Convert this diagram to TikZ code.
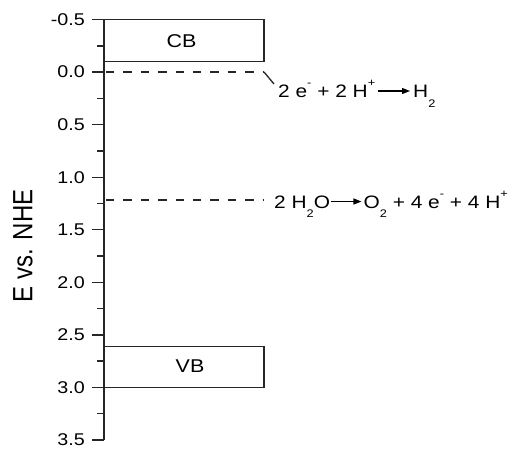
\documentclass[tikz,border=0pt]{standalone}
\usepackage{fontspec}
\setmainfont{Liberation Sans}
\usetikzlibrary{arrows.meta}
% horizontally widened text, and small raised / lowered indices
\newcommand\hs[1]{\scalebox{1.16}[1]{#1}}
\newcommand\dn[1]{\raisebox{-9.5pt}{\fontsize{11}{12}\selectfont #1}}
\newcommand\up[1]{\raisebox{11pt}{\fontsize{11}{12}\selectfont #1}}
\begin{document}
\begin{tikzpicture}[x=1pt,y=-1pt,
  axisline/.style={line width=1.4pt,black!85},
  band/.style={draw=black!85,line width=1.4pt,fill=white},
  level/.style={line width=1.4pt,black!85,dash pattern=on 8.4pt off 9pt},
  ticklbl/.style={anchor=east,inner sep=0pt,font=\fontsize{17}{18}\selectfont},
  eqn/.style={anchor=base west,inner sep=0pt,font=\fontsize{18}{19}\selectfont},
  bandlbl/.style={inner sep=0pt,font=\fontsize{18.5}{20}\selectfont},
  arr/.style={line width=1.3pt,-{Triangle[length=8pt,width=6pt]}}]
\useasboundingbox (0,0) rectangle (514,448);

% energy axis: y = 72.1 + 105.1 E
\coordinate (top) at (104,19.55);
\coordinate (bot) at (104,439.95);
\draw[axisline] (top) -- (bot);
\foreach \e/\t in {-0.5/-0.5,0/0.0,0.5/0.5,1/1.0,1.5/1.5,2/2.0,2.5/2.5,3/3.0,3.5/3.5}{
  \pgfmathsetmacro\yy{72.1+105.1*\e}
  \draw[axisline] (92,\yy) -- (104,\yy);
  \node[ticklbl] (t\e) at (85,\yy) {\hs{\t}};
}
\foreach \e in {-0.25,0.25,0.75,1.25,1.75,2.25,2.75,3.25}{
  \pgfmathsetmacro\yy{72.1+105.1*\e}
  \draw[axisline] (97,\yy) -- (104,\yy);
}
\node[rotate=90,inner sep=0pt,font=\fontsize{24}{26}\selectfont] (ylabel) at (23,246)
  {\scalebox{1}[1.16]{E vs. NHE}};

% conduction and valence bands
\draw[band] (104,19.55) rectangle (264,61.6);
\node[bandlbl] (cb) at (181.5,40.8) {\hs{CB}};
\draw[band] (104,346.4) rectangle (264,387.4);
\node[bandlbl] (vb) at (190,366.5) {\hs{VB}};

% H+/H2 level
\coordinate (h1) at (106,72);
\coordinate (h2) at (264,72);
\coordinate (h3) at (274,84);
\draw[level] (h1) -- (h2);
\draw[line width=1.3pt,black!85] (h2) -- (h3);
\node[eqn] (r1) at (278,97.5) {\hs{2 e\up{-} + 2 H\up{+}}};
\node[eqn] (p1) at (413,97.5) {\hs{H\dn{2}}};
\draw[arr] ([xshift=3pt,yshift=6.5pt]r1.base east) -- ([xshift=-3pt,yshift=6.5pt]p1.base west);

% O2/H2O level
\coordinate (o1) at (106,200);
\coordinate (o2) at (264,200);
\draw[level] (o1) -- (o2);
\node[eqn] (r2) at (274,208) {\hs{2 H\dn{2}O}};
\node[eqn,anchor=base east] (p2) at (508,208)
  {\hs{O\dn{2} + 4 e\up{-} + 4 H\up{+}}};
\draw[arr] ([xshift=0.5pt,yshift=6.5pt]r2.base east) -- ([xshift=-2pt,yshift=6.5pt]p2.base west);
\end{tikzpicture}
\end{document}
